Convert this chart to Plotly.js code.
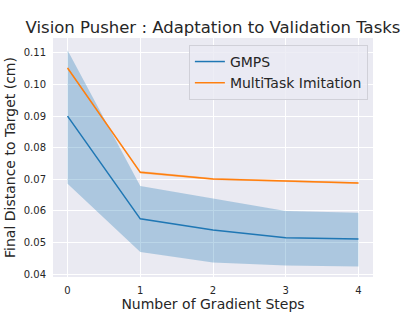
<!DOCTYPE html>
<html>
<head>
<meta charset="utf-8">
<script src="https://cdn.plot.ly/plotly-3.0.1.min.js"></script>
<style>html,body{margin:0;padding:0;background:#fff;}#chart{width:416px;height:312px;}</style>
</head>
<body>
<div id="chart"></div>
<script>
const steps = [0, 1, 2, 3, 4];
const gmpsMean = [0.090, 0.0575, 0.0540, 0.0515, 0.0511];
const gmpsUpper = [0.1108, 0.0679, 0.0639, 0.0600, 0.0594];
const gmpsLower = [0.0686, 0.0470, 0.0437, 0.0427, 0.0424];
const mtMean = [0.1052, 0.0722, 0.0701, 0.0694, 0.0688];
const mtUpper = [0.1055, 0.0726, 0.0704, 0.0697, 0.0691];
const mtLower = [0.1049, 0.0718, 0.0698, 0.0691, 0.0685];

const blue = '#1f77b4', orange = '#ff7f0e';
const txt = '#262626';
const traces = [
  {x: steps, y: gmpsLower, mode: 'lines', line: {width: 0}, showlegend: false, hoverinfo: 'skip'},
  {x: steps, y: gmpsUpper, mode: 'lines', line: {width: 0}, fill: 'tonexty', fillcolor: 'rgba(31,119,180,0.3)', showlegend: false, hoverinfo: 'skip'},
  {x: steps, y: mtLower, mode: 'lines', line: {width: 0}, showlegend: false, hoverinfo: 'skip'},
  {x: steps, y: mtUpper, mode: 'lines', line: {width: 0}, fill: 'tonexty', fillcolor: 'rgba(255,127,14,0.3)', showlegend: false, hoverinfo: 'skip'},
  {x: steps, y: gmpsMean, mode: 'lines', name: 'GMPS', line: {color: blue, width: 1.5}},
  {x: steps, y: mtMean, mode: 'lines', name: 'MultiTask Imitation', line: {color: orange, width: 1.5}}
];
const layout = {
  width: 416, height: 312,
  paper_bgcolor: '#ffffff', plot_bgcolor: '#EAEAF2',
  margin: {l: 53, r: 43, t: 38, b: 35},
  font: {family: 'DejaVu Sans', color: txt, size: 10},
  title: {text: 'Vision Pusher : Adaptation to Validation Tasks', font: {size: 16.5, color: txt}, x: 0.5, xref: 'paper', xanchor: 'center', y: 1 - 27/312, yref: 'container', yanchor: 'middle'},
  xaxis: {
    range: [-0.2, 4.2], tickvals: steps, ticktext: ['0','1','2','3','4'],
    showgrid: true, gridcolor: '#ffffff', gridwidth: 1, zeroline: false, showline: false,
    ticks: 'outside', ticklen: 4, tickcolor: 'rgba(0,0,0,0)',
    tickfont: {size: 10, color: txt},
    title: {text: 'Number of Gradient Steps', font: {size: 14, color: txt}, standoff: 3}
  },
  yaxis: {
    range: [0.0391, 0.1147], tickvals: [0.04,0.05,0.06,0.07,0.08,0.09,0.10,0.11],
    ticktext: ['0.04','0.05','0.06','0.07','0.08','0.09','0.10','0.11'],
    showgrid: true, gridcolor: '#ffffff', gridwidth: 1, zeroline: false, showline: false,
    ticks: 'outside', ticklen: 4, tickcolor: 'rgba(0,0,0,0)',
    tickfont: {size: 10, color: txt},
    title: {text: 'Final Distance to Target (cm)', font: {size: 14, color: txt}, standoff: 4}
  },
  legend: {x: 0.984, xanchor: 'right', y: 0.971, yanchor: 'top', traceorder: 'normal', bgcolor: 'rgba(234,234,242,0.8)', bordercolor: '#d0d0d8', borderwidth: 1, font: {size: 14, color: txt}, itemwidth: 30},
  showlegend: true
};
Plotly.newPlot('chart', traces, layout, {displayModeBar: false, staticPlot: true});
</script>
</body>
</html>
